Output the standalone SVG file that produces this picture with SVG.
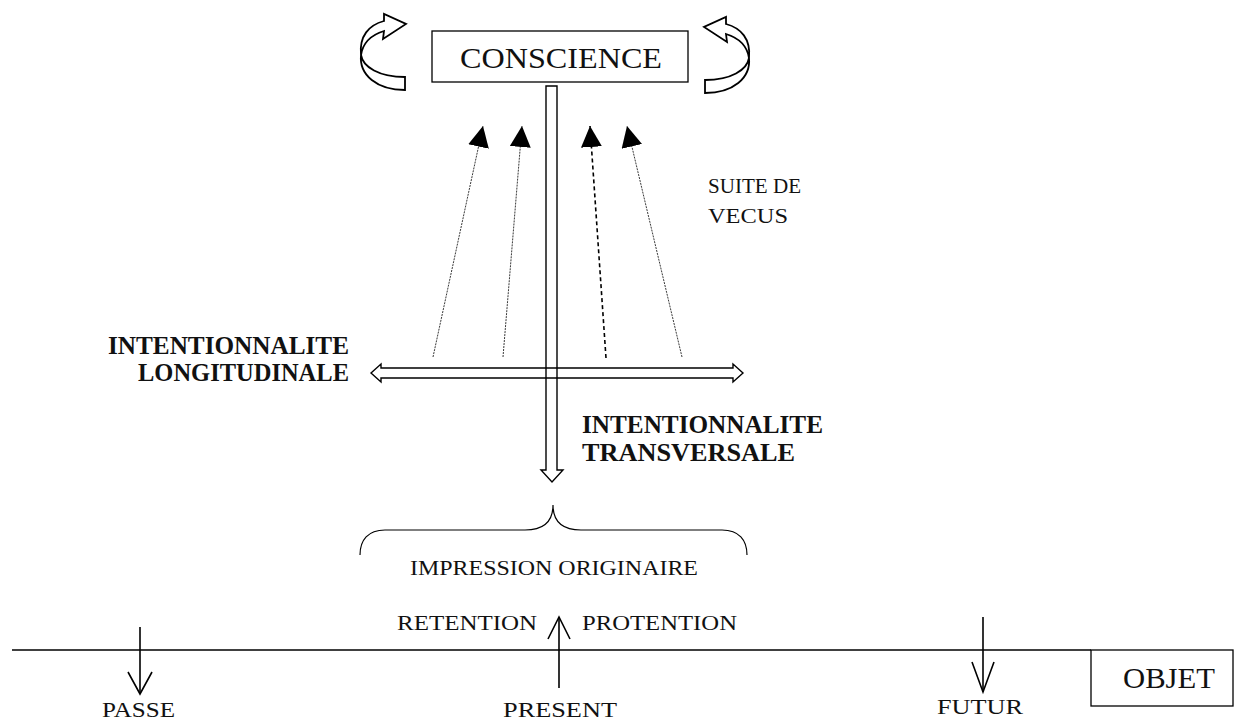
<svg xmlns="http://www.w3.org/2000/svg" width="1241" height="722" viewBox="0 0 1241 722">
<style>
  text { font-family: "Liberation Serif", "Times New Roman", serif; fill: #111; }
  .bold { font-weight: bold; font-size: 25px; }
  .lbl { font-size: 22px; }
  .sm { font-size: 20px; }
  .big { font-size: 30px; }
  .box { fill: #fff; stroke: #000; stroke-width: 1.3; }
  .block { fill: none; stroke: #000; stroke-width: 1.4; stroke-linejoin: miter; }
  .curv { fill: #fff; stroke: #000; stroke-width: 1.8; stroke-linejoin: miter; }
  .thin { stroke: #222; stroke-width: 0.9; stroke-dasharray: 2 1; fill: none; }
  .dash { stroke: #000; stroke-width: 1.6; stroke-dasharray: 4 3; fill: none; }
  .ln { stroke: #000; stroke-width: 1.6; fill: none; }
</style>
<defs>
  <marker id="tri" viewBox="0 0 20 20" refX="20" refY="10" markerWidth="21" markerHeight="21" markerUnits="userSpaceOnUse" orient="auto">
    <path d="M0,0 L20,10 L0,20 Z" fill="#000"/>
  </marker>
  <path id="curl" d="M405,77 L405,90 C377,90 359,75 361,55 C363,42 371,35 384,31 L383,39 L406,24 L384,14 L384,21 C369,25 359,36 361,55 C363,67 379,77 405,77 Z"/>
</defs>

<g id="conscience">
  <rect class="box" x="432" y="31" width="256" height="51"/>
  <text class="big" x="460" y="68" textLength="202" lengthAdjust="spacingAndGlyphs">CONSCIENCE</text>
</g>

<g id="curl-left">
  <use href="#curl" class="curv"/>
</g>
<g id="curl-right">
  <use href="#curl" class="curv" transform="translate(1110,3) scale(-1,1)"/>
</g>

<g id="suite-vecus">
  <text class="sm" x="708" y="193" textLength="93" lengthAdjust="spacingAndGlyphs">SUITE DE</text>
  <text class="sm" x="708" y="223" textLength="80" lengthAdjust="spacingAndGlyphs">VECUS</text>
</g>

<g id="longitudinale">
  <text class="bold" x="108" y="354" textLength="241" lengthAdjust="spacingAndGlyphs">INTENTIONNALITE</text>
  <text class="bold" x="138" y="381" textLength="211" lengthAdjust="spacingAndGlyphs">LONGITUDINALE</text>
</g>

<g id="transversale">
  <text class="bold" x="582" y="433" textLength="241" lengthAdjust="spacingAndGlyphs">INTENTIONNALITE</text>
  <text class="bold" x="582" y="461" textLength="213" lengthAdjust="spacingAndGlyphs">TRANSVERSALE</text>
</g>

<g id="impression">
  <path class="ln" style="stroke-width:1.2" d="M360,555 C360,540 368,530 385,530 L525,530 C545,530 553,520 553,505 C553,520 561,530 581,530 L722,530 C739,530 747,540 747,555"/>
  <text class="sm" x="410" y="575" textLength="288" lengthAdjust="spacingAndGlyphs">IMPRESSION ORIGINAIRE</text>
</g>

<g id="retention">
  <text class="lbl" x="397" y="630" textLength="140" lengthAdjust="spacingAndGlyphs">RETENTION</text>
</g>
<g id="protention">
  <text class="lbl" x="582" y="630" textLength="155" lengthAdjust="spacingAndGlyphs">PROTENTION</text>
</g>

<g id="objet">
  <rect class="box" x="1091" y="650" width="142" height="56"/>
  <text class="big" x="1123" y="688" textLength="92" lengthAdjust="spacingAndGlyphs">OBJET</text>
</g>

<g id="passe">
  <text class="lbl" x="102" y="717" textLength="73" lengthAdjust="spacingAndGlyphs">PASSE</text>
</g>
<g id="present">
  <text class="lbl" x="503" y="717" textLength="114" lengthAdjust="spacingAndGlyphs">PRESENT</text>
</g>
<g id="futur">
  <text class="lbl" x="937" y="714" textLength="86" lengthAdjust="spacingAndGlyphs">FUTUR</text>
</g>

<g id="connectors">
  <line class="ln" x1="12" y1="650" x2="1091" y2="650"/>
  <polygon class="block" points="371,373 381,364 381,368 733,368 733,364 743,373 733,382 733,378 381,378 381,382"/>
  <polygon class="block" points="546,86 557,86 557,470 563,470 552,482 541,470 546,470"/>
  <line class="thin" x1="433" y1="357" x2="483" y2="126" marker-end="url(#tri)"/>
  <line class="thin" x1="503" y1="357" x2="522" y2="126" marker-end="url(#tri)"/>
  <line class="dash" x1="606" y1="358" x2="590" y2="126" marker-end="url(#tri)"/>
  <line class="thin" x1="682" y1="357" x2="627" y2="126" marker-end="url(#tri)"/>
  <line class="ln" x1="559" y1="688" x2="559" y2="617"/>
  <polyline class="ln" points="548,639 559,617 570,639"/>
  <line class="ln" x1="140" y1="627" x2="140" y2="694"/>
  <polyline class="ln" points="128,672 140,694 152,672"/>
  <line class="ln" x1="983" y1="617" x2="983" y2="692"/>
  <polyline class="ln" points="972,662 983,692 994,662"/>
</g>
</svg>
